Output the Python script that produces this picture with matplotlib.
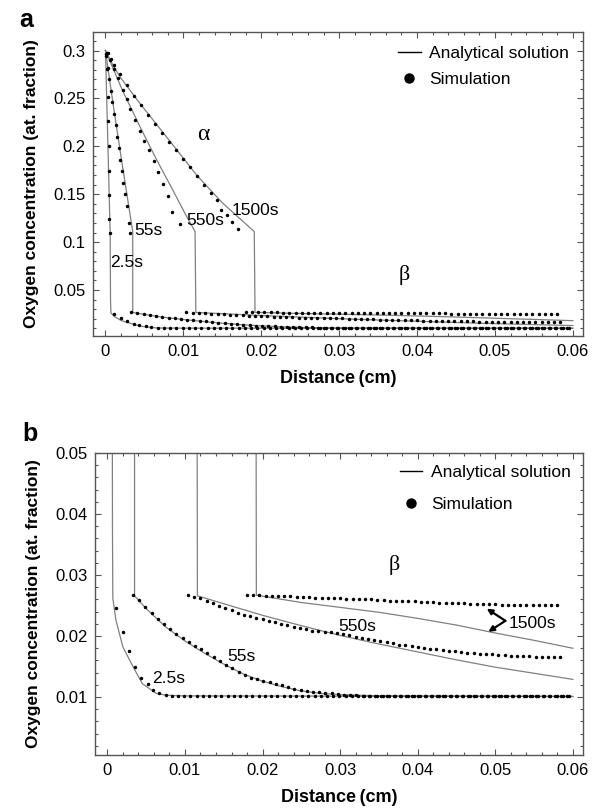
import matplotlib
matplotlib.use("Agg")
import matplotlib.pyplot as plt
from matplotlib.lines import Line2D
from matplotlib.ticker import MultipleLocator, FixedLocator

plt.rcParams["font.family"] = ["Liberation Sans", "DejaVu Sans"]

# ---------------- analytical solution (x in cm, y in at. fraction) ----------------
ana_2_5_x = [0.0, 0.0003, 0.0006, 0.00065, 0.0007, 0.0011, 0.0020, 0.0033, 0.0045, 0.0063, 0.0076, 0.0100, 0.0600]
ana_2_5_y = [0.300, 0.205, 0.110, 0.0385, 0.0262, 0.0226, 0.0182, 0.0150, 0.0122, 0.0106, 0.0103, 0.0102, 0.0101]

ana_55_x = [0.0, 0.0005, 0.0010, 0.0015, 0.0020, 0.0025, 0.0030, 0.0035, 0.0035, 0.0050, 0.0075, 0.0100,
            0.0125, 0.0150, 0.0175, 0.0200, 0.0225, 0.0250, 0.0275, 0.0300, 0.0350, 0.0600]
ana_55_y = [0.300, 0.271, 0.243, 0.216, 0.189, 0.163, 0.137, 0.111, 0.0266, 0.0245, 0.0215, 0.0192,
            0.0172, 0.0154, 0.0138, 0.0126, 0.0117, 0.0110, 0.0106, 0.0104, 0.0102, 0.0101]

ana_550_x = [0.0, 0.0011, 0.0022, 0.0044, 0.0065, 0.0086, 0.0104, 0.0115, 0.0116, 0.0150, 0.0200, 0.0250,
             0.0300, 0.0350, 0.0400, 0.0450, 0.0500, 0.0550, 0.0600]
ana_550_y = [0.300, 0.279, 0.258, 0.221, 0.187, 0.155, 0.127, 0.111, 0.0266, 0.0253, 0.0234, 0.0217,
             0.0201, 0.0187, 0.0174, 0.0161, 0.0149, 0.0139, 0.0129]

ana_1500_x = [0.0, 0.0010, 0.0020, 0.0044, 0.0086, 0.0117, 0.0150, 0.0191, 0.0192, 0.0250,
              0.0300, 0.0350, 0.0400, 0.0450, 0.0500, 0.0550, 0.0600]
ana_1500_y = [0.300, 0.284, 0.271, 0.245, 0.202, 0.170, 0.141, 0.111, 0.0267, 0.0255,
              0.0247, 0.0239, 0.0229, 0.0218, 0.0205, 0.0193, 0.0180]

# ---------------- simulation points ----------------
sim_2_5_x = [0.0001, 0.0002, 0.0003, 0.0003, 0.0004, 0.0004, 0.0005, 0.0005, 0.0006,
             0.0011, 0.0020, 0.0028, 0.0036, 0.0043, 0.0052, 0.0059, 0.0067,
             0.0075, 0.0083, 0.0091, 0.0099, 0.0107, 0.0115, 0.0123, 0.0131, 0.0139, 0.0147,
             0.0155, 0.0163, 0.0171, 0.0179, 0.0187, 0.0195, 0.0203, 0.0211, 0.0219, 0.0227,
             0.0235, 0.0243, 0.0251, 0.0259, 0.0267, 0.0275, 0.0283, 0.0291, 0.0299, 0.0307,
             0.0315, 0.0323, 0.0331, 0.0339, 0.0347, 0.0355, 0.0363, 0.0371, 0.0379, 0.0387,
             0.0395, 0.0403, 0.0411, 0.0419, 0.0427, 0.0435, 0.0443, 0.0451, 0.0459, 0.0467,
             0.0475, 0.0483, 0.0491, 0.0499, 0.0507, 0.0515, 0.0523, 0.0531, 0.0539, 0.0547,
             0.0555, 0.0563, 0.0571, 0.0579, 0.0587, 0.0595]
sim_2_5_y = [0.296, 0.281, 0.251, 0.226, 0.200, 0.174, 0.149, 0.124, 0.110,
             0.0246, 0.0206, 0.0175, 0.0150, 0.0131, 0.0121, 0.0111, 0.0107,
             0.0103, 0.0102, 0.0101, 0.0101, 0.0101, 0.0101, 0.0101, 0.0101, 0.0101, 0.0101,
             0.0101, 0.0101, 0.0101, 0.0101, 0.0101, 0.0101, 0.0101, 0.0101, 0.0101, 0.0101,
             0.0101, 0.0101, 0.0101, 0.0101, 0.0101, 0.0101, 0.0101, 0.0101, 0.0101, 0.0101,
             0.0101, 0.0101, 0.0101, 0.0101, 0.0101, 0.0101, 0.0101, 0.0101, 0.0101, 0.0101,
             0.0101, 0.0101, 0.0101, 0.0101, 0.0101, 0.0101, 0.0101, 0.0101, 0.0101, 0.0101,
             0.0101, 0.0101, 0.0101, 0.0101, 0.0101, 0.0101, 0.0101, 0.0101, 0.0101, 0.0101,
             0.0101, 0.0101, 0.0101, 0.0101, 0.0101, 0.0101]

sim_55_x = [0.0001, 0.0003, 0.0005, 0.0007, 0.0009, 0.0011, 0.0013, 0.0015, 0.0017, 0.0019,
            0.0021, 0.0023, 0.0025, 0.0027, 0.0030, 0.0032,
            0.0033, 0.0041, 0.0049, 0.0057, 0.0065, 0.0073, 0.0081, 0.0089, 0.0097, 0.0105,
            0.0113, 0.0121, 0.0129, 0.0137, 0.0145, 0.0153, 0.0161, 0.0169, 0.0177, 0.0185,
            0.0193, 0.0201, 0.0209, 0.0217, 0.0225, 0.0233, 0.0241, 0.0249, 0.0257, 0.0265,
            0.0273, 0.0281, 0.0289, 0.0297, 0.0305, 0.0313, 0.0321, 0.0329,
            0.0337, 0.0345, 0.0353, 0.0361, 0.0369, 0.0377, 0.0385, 0.0393, 0.0401, 0.0409,
            0.0417, 0.0425, 0.0433, 0.0441, 0.0449, 0.0457, 0.0465, 0.0473, 0.0481, 0.0489,
            0.0497, 0.0505, 0.0513, 0.0521, 0.0529, 0.0537, 0.0545, 0.0553, 0.0561, 0.0569,
            0.0577, 0.0585, 0.0593]
sim_55_y = [0.294, 0.282, 0.270, 0.258, 0.246, 0.234, 0.222, 0.210, 0.198, 0.186,
            0.174, 0.162, 0.150, 0.138, 0.120, 0.110,
            0.0267, 0.0259, 0.0248, 0.0237, 0.0228, 0.0219, 0.0211, 0.0204, 0.0197, 0.0190,
            0.0184, 0.0178, 0.0172, 0.0166, 0.0159, 0.0153, 0.0147, 0.0141, 0.0136, 0.0132,
            0.0129, 0.0127, 0.0124, 0.0121, 0.0119, 0.0117, 0.0114, 0.0112, 0.0110, 0.0109,
            0.0108, 0.0107, 0.0106, 0.0105, 0.0104, 0.0103, 0.0103, 0.0102,
            0.0102, 0.0102, 0.0102, 0.0102, 0.0102, 0.0102, 0.0102, 0.0102, 0.0102, 0.0102,
            0.0102, 0.0102, 0.0102, 0.0102, 0.0102, 0.0102, 0.0102, 0.0102, 0.0102, 0.0102,
            0.0102, 0.0102, 0.0102, 0.0102, 0.0102, 0.0102, 0.0102, 0.0102, 0.0102, 0.0102,
            0.0102, 0.0102, 0.0102]

sim_550_x = [0.0002, 0.0006, 0.0011, 0.0016, 0.0022, 0.0027, 0.0032, 0.0038, 0.0044, 0.0050,
             0.0056, 0.0062, 0.0068, 0.0074, 0.0080, 0.0086, 0.0096,
             0.0104, 0.0112, 0.0120, 0.0128, 0.0136, 0.0144, 0.0152, 0.0160, 0.0168, 0.0176,
             0.0184, 0.0192, 0.0200, 0.0208, 0.0216, 0.0224, 0.0232, 0.0240, 0.0248, 0.0256,
             0.0264, 0.0272, 0.0280, 0.0288, 0.0296, 0.0304, 0.0312, 0.0320, 0.0328, 0.0336,
             0.0344, 0.0352, 0.0360, 0.0368, 0.0376, 0.0384, 0.0392, 0.0400, 0.0408, 0.0416,
             0.0424, 0.0432, 0.0440, 0.0448, 0.0456, 0.0464, 0.0472, 0.0480, 0.0488, 0.0496,
             0.0504, 0.0512, 0.0520, 0.0528, 0.0536, 0.0544, 0.0552, 0.0560, 0.0568, 0.0576,
             0.0584]
sim_550_y = [0.297, 0.290, 0.281, 0.271, 0.259, 0.249, 0.239, 0.227, 0.216, 0.206,
             0.196, 0.185, 0.173, 0.161, 0.148, 0.131, 0.119,
             0.0267, 0.0264, 0.0262, 0.0258, 0.0254, 0.0250, 0.0246, 0.0242, 0.0238, 0.0235,
             0.0233, 0.0230, 0.0228, 0.0225, 0.0223, 0.0220, 0.0218, 0.0215, 0.0213, 0.0211,
             0.0209, 0.0208, 0.0207, 0.0206, 0.0205, 0.0203, 0.0201, 0.0199, 0.0197, 0.0195,
             0.0193, 0.0192, 0.0190, 0.0188, 0.0186, 0.0185, 0.0183, 0.0182, 0.0180, 0.0179,
             0.0178, 0.0177, 0.0176, 0.0175, 0.0174, 0.0173, 0.0172, 0.0171, 0.0171, 0.0170,
             0.0169, 0.0169, 0.0168, 0.0168, 0.0167, 0.0167, 0.0166, 0.0166, 0.0166, 0.0165,
             0.0165]

sim_1500_x = [0.0003, 0.0007, 0.0011, 0.0019, 0.0028, 0.0037, 0.0046, 0.0055, 0.0064, 0.0073,
              0.0082, 0.0091, 0.0100, 0.0109, 0.0118, 0.0127, 0.0136, 0.0143, 0.0148, 0.0156,
              0.0163, 0.0170,
              0.0180, 0.0188, 0.0196, 0.0204, 0.0212, 0.0220, 0.0228, 0.0236, 0.0244, 0.0252,
              0.0260, 0.0268, 0.0276, 0.0284, 0.0292, 0.0300, 0.0308, 0.0316, 0.0324, 0.0332,
              0.0340, 0.0348, 0.0356, 0.0364, 0.0372, 0.0380, 0.0388, 0.0396, 0.0404, 0.0412,
              0.0420, 0.0428, 0.0436, 0.0444, 0.0452, 0.0460, 0.0468, 0.0476, 0.0484, 0.0492,
              0.0500, 0.0508, 0.0516, 0.0524, 0.0532, 0.0540, 0.0548, 0.0556, 0.0564, 0.0572,
              0.0580]
sim_1500_y = [0.297, 0.291, 0.285, 0.275, 0.264, 0.253, 0.243, 0.233, 0.223, 0.214,
              0.205, 0.196, 0.187, 0.178, 0.169, 0.160, 0.151, 0.144, 0.134, 0.128,
              0.121, 0.114,
              0.0268, 0.0267, 0.0267, 0.0266, 0.0266, 0.0266, 0.0265, 0.0265, 0.0264, 0.0264,
              0.0264, 0.0263, 0.0263, 0.0262, 0.0262, 0.0262, 0.0261, 0.0261, 0.0260, 0.0260,
              0.0260, 0.0259, 0.0259, 0.0258, 0.0258, 0.0258, 0.0257, 0.0257, 0.0256, 0.0256,
              0.0256, 0.0255, 0.0255, 0.0254, 0.0254, 0.0254, 0.0253, 0.0253, 0.0252, 0.0252,
              0.0252, 0.0251, 0.0251, 0.0251, 0.0251, 0.0251, 0.0251, 0.0251, 0.0251, 0.0251,
              0.0251]

analytical = [(ana_2_5_x, ana_2_5_y), (ana_55_x, ana_55_y),
              (ana_550_x, ana_550_y), (ana_1500_x, ana_1500_y)]
simulation = [(sim_2_5_x, sim_2_5_y), (sim_55_x, sim_55_y),
              (sim_550_x, sim_550_y), (sim_1500_x, sim_1500_y)]

LINE_C = "#808080"
TXT = 12.5


def draw_curves(ax):
    for x, y in analytical:
        ax.plot(x, y, color=LINE_C, lw=0.9, zorder=2)
    for x, y in simulation:
        ax.plot(x, y, ls="none", marker="o", ms=2.5, mec="none", color="black", zorder=3)


def style_axes(ax):
    for s in ax.spines.values():
        s.set_color("#555555")
        s.set_linewidth(1.0)
    ax.tick_params(which="both", direction="in", top=True, right=True,
                   colors="#555555", labelcolor="black", labelsize=12, width=0.8)
    ax.tick_params(which="major", length=4, pad=5.5)
    ax.tick_params(which="minor", length=2)
    ax.xaxis.set_major_locator(MultipleLocator(0.01))
    ax.xaxis.set_minor_locator(MultipleLocator(0.002))
    ax.xaxis.set_major_formatter(plt.FuncFormatter(lambda v, p: "0" if abs(v) < 1e-9 else f"{v:g}"))
    ax.set_xlim(-0.0016, 0.0613)
    ax.set_xlabel("Distance\u2009(cm)", fontsize=13, fontweight="bold", labelpad=8)
    ax.set_ylabel("Oxygen concentration (at. fraction)", fontsize=12.5, fontweight="bold",
                  labelpad=10)


def add_legend(ax, spacing, pad):
    handles = [Line2D([], [], color="black", lw=1.0),
               Line2D([], [], ls="none", marker="o", ms=6.5, color="black")]
    ax.legend(handles, ["Analytical solution", "Simulation"], loc="upper right",
              frameon=False, fontsize=TXT, handlelength=1.3, handletextpad=0.5,
              labelspacing=spacing, borderaxespad=pad)


fig = plt.figure(figsize=(5.97, 8.11), dpi=100)

# ---------------- panel a ----------------
ax1 = fig.add_axes([0.1558, 0.5857, 0.8207, 0.3748])
draw_curves(ax1)
style_axes(ax1)
ax1.set_ylim(0.002, 0.3193)
ax1.yaxis.set_major_locator(FixedLocator([0.05, 0.1, 0.15, 0.2, 0.25, 0.3]))
ax1.yaxis.set_minor_locator(MultipleLocator(0.01))
ax1.yaxis.set_major_formatter(plt.FuncFormatter(lambda v, p: f"{v:g}"))
add_legend(ax1, 0.6, 0.4)
ax1.text(0.0125, 0.2125, "α", fontsize=17, family="Liberation Serif", ha="center", va="center")
ax1.text(0.0383, 0.066, "β", fontsize=16, family="Liberation Serif", ha="center", va="center")
for lbl, x, y in [("1500s", 0.0162, 0.1334), ("550s", 0.0104, 0.1229),
                  ("55s", 0.0037, 0.1123), ("2.5s", 0.0006, 0.0786)]:
    ax1.text(x, y, lbl, fontsize=TXT, ha="left", va="center")
fig.text(0.032, 0.990, "a", fontsize=18, fontweight="bold", va="top")

# ---------------- panel b ----------------
ax2 = fig.add_axes([0.1591, 0.0690, 0.8174, 0.3724])
draw_curves(ax2)
style_axes(ax2)
ax2.set_ylim(0.0005, 0.05)
ax2.yaxis.set_major_locator(FixedLocator([0.01, 0.02, 0.03, 0.04, 0.05]))
ax2.yaxis.set_minor_locator(MultipleLocator(0.002))
ax2.yaxis.set_major_formatter(plt.FuncFormatter(lambda v, p: f"{v:.2f}"))
add_legend(ax2, 0.95, 0.3)
ax2.text(0.037, 0.0316, "β", fontsize=16, family="Liberation Serif", ha="center", va="center")
for lbl, x, y in [("2.5s", 0.0058, 0.0131), ("55s", 0.0155, 0.0166),
                  ("550s", 0.0297, 0.0216), ("1500s", 0.0517, 0.0221)]:
    ax2.text(x, y, lbl, fontsize=TXT, ha="left", va="center")
for tip in [(0.0489, 0.0245), (0.0491, 0.0207)]:
    ax2.annotate("", xy=tip, xytext=(0.0513, 0.0225),
                 arrowprops=dict(arrowstyle="-|>", color="black", lw=1.6,
                                 mutation_scale=8, shrinkA=0, shrinkB=0))
fig.text(0.038, 0.480, "b", fontsize=18, fontweight="bold", va="top")

fig.savefig("out.png", dpi=100)
